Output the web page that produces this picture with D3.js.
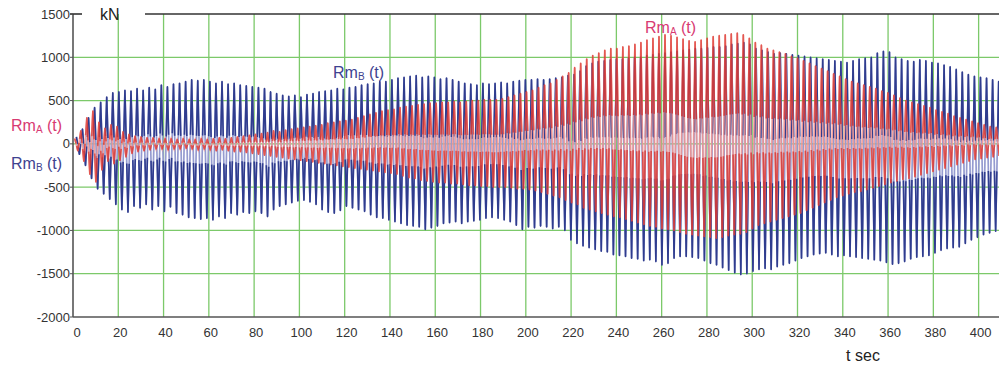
<!DOCTYPE html>
<html>
<head>
<meta charset="utf-8">
<script src="https://cdn.jsdelivr.net/npm/d3@7"></script>
<style>
  body { margin: 0; background: #fff; }
  svg { display: block; font-family: "Liberation Sans", Arial, sans-serif; }
</style>
</head>
<body>
<div class="chart"></div>
<script>
// tick labels
const xTicks = [0, 20, 40, 60, 80, 100, 120, 140, 160, 180, 200, 220, 240, 260, 280, 300, 320, 340, 360, 380, 400];
const yTicks = [1500, 1000, 500, 0, -500, -1000, -1500, -2000];

// Rm_B(t): one max and one min per oscillation cycle (kN)
const blueStart = 1.5, bluePeriod = 2.68;
const blueMax = [
  80, 170, 300, 420, 480, 540, 590, 600, 620, 610,
  640, 620, 650, 630, 680, 660, 690, 700, 720, 740,
  730, 740, 720, 700, 720, 690, 700, 680, 670, 660,
  650, 640, 600, 580, 560, 550, 560, 540, 570, 580,
  600, 610, 620, 640, 630, 650, 660, 680, 690, 700,
  720, 720, 740, 760, 770, 780, 790, 770, 780, 770,
  750, 760, 740, 720, 700, 690, 680, 700, 690, 700,
  710, 700, 720, 730, 740, 740, 750, 740, 750, 760,
  770, 790, 800, 840, 900, 930, 950, 960, 970, 980,
  980, 990, 1000, 1000, 1020, 1030, 1040, 1050, 1060, 1070,
  1080, 1090, 1100, 1100, 1110, 1120, 1120, 1130, 1150, 1160,
  1170, 1150, 1100, 1080, 1060, 1040, 1050, 1040, 1030, 1020,
  1010, 1000, 990, 980, 970, 960, 950, 940, 960, 980,
  990, 1000, 1050, 1070, 1060, 1000, 980, 960, 950, 970,
  960, 940, 930, 910, 890, 860, 830, 800, 780, 770,
  760, 740, 720
];
const blueMin = [
  -120, -250, -400, -520, -580, -640, -700, -760, -790, -720,
  -740, -700, -760, -720, -780, -730, -800, -820, -850, -860,
  -870, -860, -880, -840, -860, -800, -820, -790, -800, -780,
  -800, -840, -760, -720, -700, -680, -660, -650, -670, -700,
  -760, -790, -800, -770, -720, -740, -760, -780, -820, -850,
  -860, -880, -900, -920, -940, -950, -960, -990, -970, -950,
  -920, -910, -900, -920, -900, -890, -880, -860, -850, -860,
  -880, -900, -940, -990, -960, -970, -950, -960, -980, -960,
  -1000, -1110, -1150, -1180, -1200, -1220, -1240, -1250, -1280, -1290,
  -1300, -1320, -1330, -1350, -1340, -1360, -1400, -1380, -1320, -1300,
  -1300, -1310, -1320, -1350, -1380, -1400, -1430, -1460, -1490, -1510,
  -1500, -1470, -1450, -1440, -1450, -1420, -1400, -1380, -1350, -1320,
  -1300, -1280, -1270, -1260, -1280, -1300, -1290, -1300, -1310, -1320,
  -1330, -1340, -1350, -1370, -1390, -1380, -1360, -1330, -1310, -1300,
  -1290, -1260, -1230, -1210, -1200, -1190, -1150, -1110, -1080, -1050,
  -1030, -1010, -990
];

// Rm_A(t)
const redStart = 0.8, redPeriod = 2.66;
const redMax = [
  60, 150, 300, 380, 250, 180, 220, 200, 140, 110,
  90, 80, 70, 70, 60, 60, 60, 50, 60, 50,
  50, 60, 50, 60, 70, 60, 70, 80, 90, 100,
  110, 120, 130, 150, 140, 160, 170, 180, 190, 200,
  210, 220, 240, 250, 260, 270, 280, 300, 320, 340,
  360, 380, 390, 400, 420, 430, 440, 450, 460, 470,
  470, 480, 480, 490, 480, 490, 500, 500, 510, 510,
  510, 520, 540, 560, 580, 600, 620, 650, 680, 700,
  740, 780, 820, 880, 930, 980, 1020, 1050, 1080, 1100,
  1100, 1120, 1130, 1150, 1170, 1200, 1220, 1240, 1260, 1250,
  1230, 1210, 1190, 1180, 1200, 1220, 1240, 1250, 1260, 1270,
  1280, 1260, 1220, 1170, 1140, 1100, 1080, 1060, 1040, 1010,
  990, 960, 930, 900, 870, 840, 810, 780, 750, 720,
  700, 680, 660, 640, 610, 590, 560, 530, 500, 480,
  460, 440, 420, 390, 370, 350, 320, 300, 280, 260,
  240, 220, 200, 190
];
const redMin = [
  -80, -200, -350, -440, -300, -200, -230, -190, -150, -110,
  -90, -80, -70, -60, -60, -70, -60, -60, -50, -60,
  -70, -60, -70, -80, -70, -80, -90, -90, -100, -110,
  -120, -130, -140, -150, -160, -170, -180, -190, -200, -210,
  -220, -230, -240, -250, -260, -270, -280, -290, -300, -310,
  -320, -330, -340, -350, -370, -390, -400, -420, -430, -440,
  -450, -450, -460, -460, -470, -480, -480, -490, -490, -500,
  -500, -500, -510, -520, -520, -530, -540, -560, -580, -600,
  -620, -650, -680, -700, -740, -760, -780, -800, -820, -840,
  -850, -870, -890, -910, -930, -950, -960, -980, -990, -1000,
  -1020, -1040, -1050, -1060, -1070, -1080, -1090, -1080, -1060, -1050,
  -1040, -1020, -980, -940, -920, -900, -880, -860, -840, -820,
  -800, -770, -740, -710, -680, -650, -620, -600, -580, -560,
  -550, -530, -510, -490, -470, -450, -430, -410, -400, -380,
  -360, -340, -320, -300, -280, -260, -240, -220, -200, -180,
  -170, -160, -150, -140
];

const width = 999, height = 370;
const plotLeft = 73, plotRight = 999, plotTop = 14, plotBottom = 317;

const svg = d3.select(".chart").append("svg")
  .attr("width", width)
  .attr("height", height);

const x = d3.scaleLinear().domain([0, 409]).range([plotLeft, plotRight]);
const y = d3.scaleLinear().domain([-2000, 1500]).range([plotBottom, plotTop]);

// grid
const gridColor = "#7cc96a";
svg.append("g")
  .selectAll("line")
  .data(xTicks.filter(d => d > 0))
  .join("line")
  .attr("x1", d => x(d)).attr("x2", d => x(d))
  .attr("y1", plotTop).attr("y2", plotBottom)
  .attr("stroke", gridColor)
  .attr("stroke-width", 1.3);

svg.append("g")
  .selectAll("line")
  .data(yTicks.filter(d => d < 1500 && d > -2000))
  .join("line")
  .attr("x1", plotLeft).attr("x2", plotRight)
  .attr("y1", d => y(d)).attr("y2", d => y(d))
  .attr("stroke", gridColor)
  .attr("stroke-width", 1.3);

// turn max/min lists into alternating extreme points
function extremes(maxs, mins, start, period) {
  let pts = [];
  for (let i = 0; i < maxs.length; i++) {
    pts.push([start + i * period, maxs[i]]);
    pts.push([start + i * period + period / 2, mins[i]]);
  }
  return pts;
}

svg.append("clipPath").attr("id", "plot")
  .append("rect")
  .attr("x", plotLeft).attr("y", plotTop)
  .attr("width", plotRight - plotLeft).attr("height", plotBottom - plotTop);

const plot = svg.append("g").attr("clip-path", "url(#plot)");

function drawSeries(pts, light, dark, opacity) {
  let g = plot.append("g").attr("opacity", opacity);
  let line = d3.line()
    .x(d => x(d[0]))
    .y(d => y(d[1]));

  g.append("path")
    .datum(pts)
    .attr("fill", "none")
    .attr("stroke", light)
    .attr("stroke-width", 1.7)
    .attr("d", line);

  // darker outer part of every swing
  let f = 0.4;
  let tips = [];
  for (let i = 0; i < pts.length; i++) {
    let p = [x(pts[i][0]), y(pts[i][1])];
    let a = i > 0 ? [x(pts[i - 1][0]), y(pts[i - 1][1])] : p;
    let b = i < pts.length - 1 ? [x(pts[i + 1][0]), y(pts[i + 1][1])] : p;
    tips.push([
      [p[0] + (a[0] - p[0]) * f, p[1] + (a[1] - p[1]) * f],
      p,
      [p[0] + (b[0] - p[0]) * f, p[1] + (b[1] - p[1]) * f]
    ]);
  }
  g.append("g")
    .selectAll("path")
    .data(tips)
    .join("path")
    .attr("fill", "none")
    .attr("stroke", dark)
    .attr("stroke-width", 1.6)
    .attr("stroke-linejoin", "round")
    .attr("d", d3.line());
}

drawSeries(extremes(blueMax, blueMin, blueStart, bluePeriod), "#959bd0", "#2f3c8e", 1);
drawSeries(extremes(redMax, redMin, redStart, redPeriod), "#f19490", "#df3a33", 0.85);

// axes frame
const axisColor = "#555";
svg.append("line")
  .attr("x1", plotLeft).attr("x2", plotLeft)
  .attr("y1", plotTop).attr("y2", plotBottom)
  .attr("stroke", axisColor).attr("stroke-width", 1.6);
svg.append("line")
  .attr("x1", plotLeft).attr("x2", plotRight)
  .attr("y1", plotBottom).attr("y2", plotBottom)
  .attr("stroke", axisColor).attr("stroke-width", 1.6);
svg.append("line")
  .attr("x1", plotLeft - 3).attr("x2", plotLeft + 9)
  .attr("y1", plotTop).attr("y2", plotTop)
  .attr("stroke", "#333").attr("stroke-width", 1.6);
svg.append("line")
  .attr("x1", 145).attr("x2", plotRight)
  .attr("y1", plotTop).attr("y2", plotTop)
  .attr("stroke", "#333").attr("stroke-width", 1.6);

// tick marks + labels
svg.append("g")
  .selectAll("line")
  .data(yTicks)
  .join("line")
  .attr("x1", plotLeft - 3).attr("x2", plotLeft)
  .attr("y1", d => y(d)).attr("y2", d => y(d))
  .attr("stroke", axisColor);

svg.append("g")
  .selectAll("text")
  .data(yTicks)
  .join("text")
  .attr("x", plotLeft - 3)
  .attr("y", d => y(d))
  .attr("dy", "0.35em")
  .attr("text-anchor", "end")
  .attr("font-size", "13px")
  .attr("fill", "#333")
  .text(d => d);

svg.append("g")
  .selectAll("text")
  .data(xTicks)
  .join("text")
  .attr("x", d => x(d) + (d === 0 ? 4 : 2))
  .attr("y", 337)
  .attr("text-anchor", "middle")
  .attr("font-size", "13px")
  .attr("fill", "#333")
  .text(d => d);

svg.append("text")
  .attr("x", 100).attr("y", 20)
  .attr("font-size", "16px")
  .attr("fill", "#222")
  .text("kN");

svg.append("text")
  .attr("x", 863).attr("y", 361)
  .attr("text-anchor", "middle")
  .attr("font-size", "16px")
  .attr("fill", "#222")
  .text("t sec");

// Rm labels with subscripts
function rmLabel(px, py, sub, color) {
  let t = svg.append("text")
    .attr("x", px).attr("y", py)
    .attr("font-size", "16px")
    .attr("fill", color);
  t.append("tspan").text("Rm");
  t.append("tspan").attr("font-size", "10px").attr("dy", 2).text(sub);
  t.append("tspan").attr("dy", -2).text(" (t)");
}

const pink = "#d83a72", navy = "#3e4290";
rmLabel(11, 131, "A", pink);
rmLabel(11, 169, "B", navy);
rmLabel(333, 78, "B", navy);
rmLabel(645, 33, "A", pink);
</script>
</body>
</html>
